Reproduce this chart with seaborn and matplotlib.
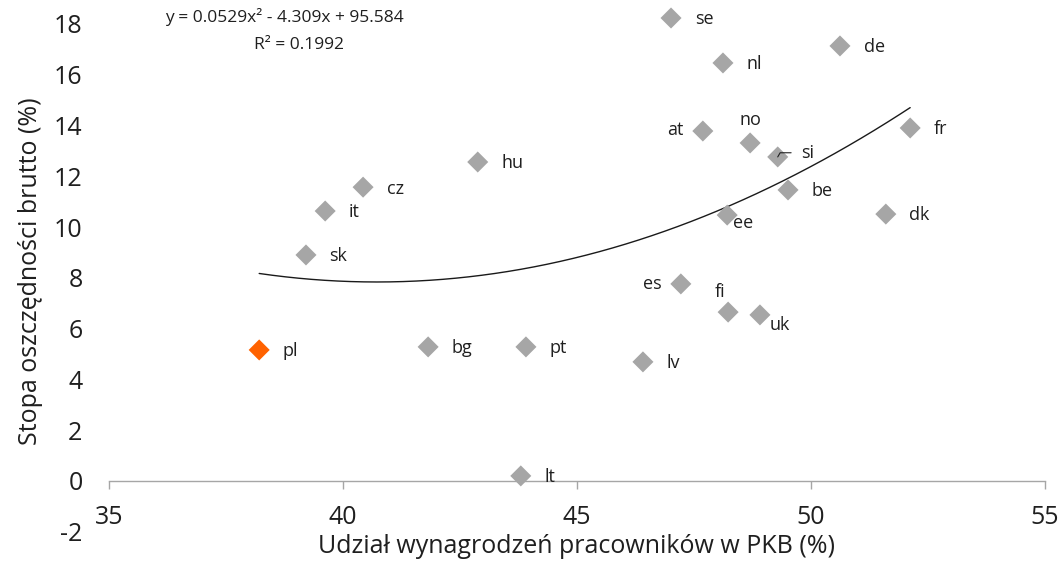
import matplotlib
matplotlib.use("Agg")
import matplotlib.pyplot as plt
import seaborn as sns
import numpy as np
import pandas as pd

# country codes and values
countries = ["se", "de", "nl", "at", "no", "si", "fr", "be", "ee", "dk",
             "hu", "cz", "it", "sk", "es", "fi", "uk", "pl", "bg", "pt", "lv", "lt"]
wage_share = [47.01, 50.62, 48.12, 47.69, 48.70, 49.29, 52.12, 49.51, 48.21, 51.60,
              42.88, 40.43, 39.62, 39.21, 47.22, 48.23, 48.91, 38.21, 41.82, 43.91, 46.41, 43.80]
saving_rate = [18.23, 17.13, 16.46, 13.78, 13.31, 12.76, 13.90, 11.46, 10.47, 10.51,
               12.56, 11.57, 10.63, 8.90, 7.76, 6.65, 6.54, 5.16, 5.28, 5.28, 4.69, 0.20]
highlight = "pl"

# trendline coefficients as printed on the chart
trend_coef = [0.0529, -4.309, 95.584]
trend_label = "y = 0.0529x² - 4.309x + 95.584"
r2_label = "R² = 0.1992"

df = pd.DataFrame({"country": countries, "x": wage_share, "y": saving_rate})
df["group"] = np.where(df["country"] == highlight, "pl", "other")

GREY = "#A6A6A6"
ORANGE = "#FF6200"
TEXT = "#1f1f1f"

sns.set_theme(style="white")
plt.rcParams["font.family"] = ["Open Sans", "DejaVu Sans"]
plt.rcParams["axes.unicode_minus"] = False

fig = plt.figure(figsize=(10.64, 5.69), dpi=100)
ax = fig.add_axes([0.1024, 0.0654, 0.8797, 0.915])

sns.scatterplot(data=df, x="x", y="y", hue="group", palette={"other": GREY, "pl": ORANGE},
                marker="D", s=115, linewidth=0, legend=False, ax=ax, zorder=3, clip_on=False)

# trendline over the data range
xs = np.linspace(df["x"].min(), df["x"].max(), 200)
sns.lineplot(x=xs, y=np.polyval(trend_coef, xs), color="#1a1a1a", linewidth=1.0, ax=ax, zorder=2)

# label offsets in points (dx, dy, ha)
offsets = {"at": (-14, 1, "right"), "es": (-14, 0, "right"),
           "no": (0, 16.5, "center"), "fi": (-6, 14.5, "center"),
           "ee": (4, -6, "left"), "uk": (7, -7, "left")}
for c, x, y in zip(countries, wage_share, saving_rate):
    if c == "si":
        ax.annotate(c, (x, y), xytext=(17, 3), textcoords="offset points",
                    ha="left", va="center", fontsize=13, color=TEXT, zorder=5,
                    arrowprops=dict(arrowstyle="-", color=TEXT, lw=0.8, shrinkA=5, shrinkB=0,
                                    connectionstyle="angle,angleA=0,angleB=60,rad=0"))
        continue
    dx, dy, ha = offsets.get(c, (17, -1, "left"))
    ax.annotate(c, (x, y), xytext=(dx, dy), textcoords="offset points",
                ha=ha, va="center", fontsize=13, color=TEXT)

ax.text(38.74, 18.27, trend_label, ha="center", va="center", fontsize=12.5, color=TEXT)
ax.text(39.06, 17.17, r2_label, ha="center", va="center", fontsize=12.5, color=TEXT)

ax.set_xlim(35, 55)
ax.set_ylim(-2, 18.5)
ax.set_xticks([35, 40, 45, 50, 55])
ax.set_yticks(range(-2, 19, 2))

for s in ["left", "top", "right"]:
    ax.spines[s].set_visible(False)
ax.spines["bottom"].set_position(("data", 0))
ax.spines["bottom"].set_color(GREY)
ax.spines["bottom"].set_linewidth(1.0)

ax.tick_params(axis="x", bottom=True, direction="out", length=6, width=1, color=GREY,
               labelsize=18, labelcolor=TEXT, pad=11)
ax.tick_params(axis="y", left=False, length=0, labelsize=18, labelcolor=TEXT, pad=19)

ax.set_xlabel("Udział wynagrodzeń pracowników w PKB (%)", fontsize=18, color=TEXT, labelpad=3)
ax.set_ylabel("Stopa oszczędności brutto (%)", fontsize=18, color=TEXT, labelpad=8)

fig.savefig("out.png", dpi=100, facecolor="white")
